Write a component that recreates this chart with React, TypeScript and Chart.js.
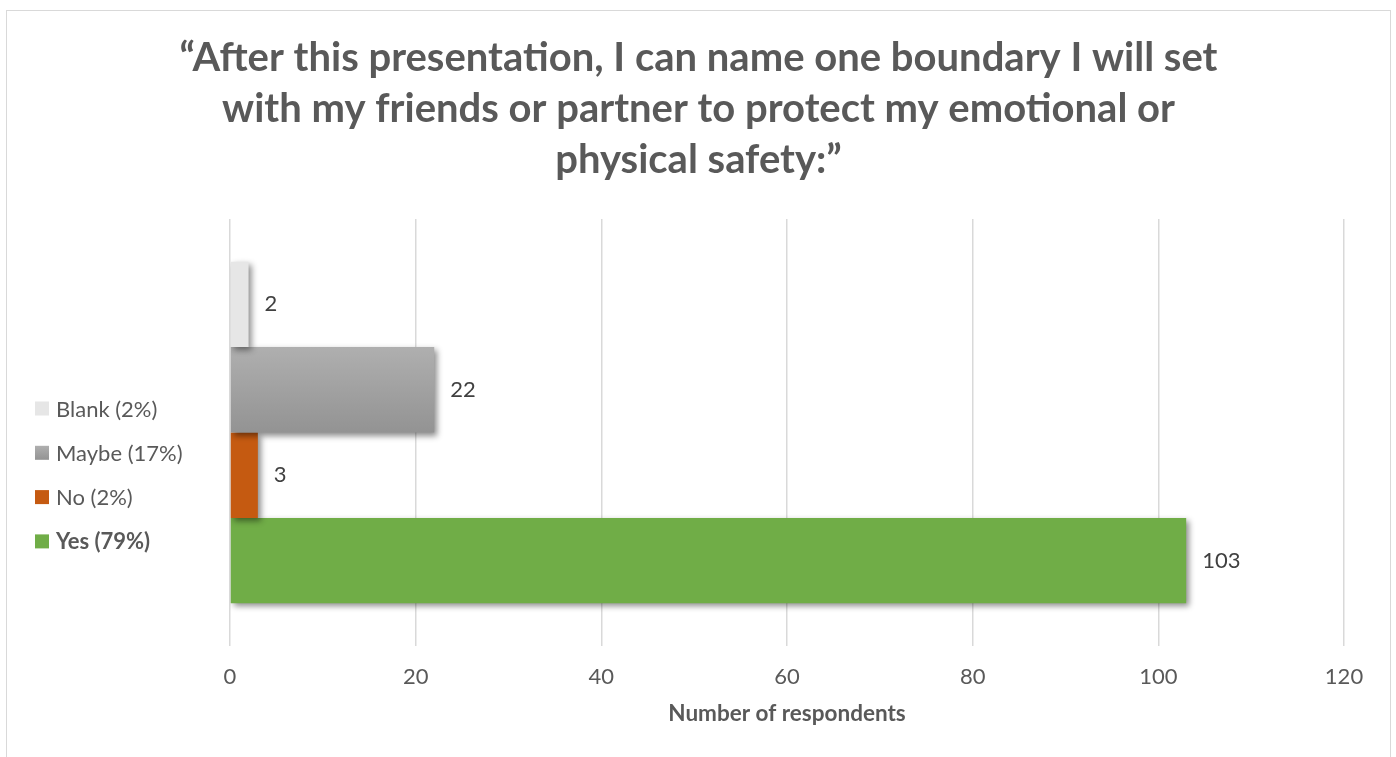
import React, { useEffect, useRef } from 'react';
import { Chart, registerables } from 'chart.js';

Chart.register(...registerables);

const FONT = "Lato, 'Open Sans', sans-serif";

const titleLines = [
  '\u201CAfter this presentation, I can name one boundary I will set',
  'with my friends or partner to protect my emotional or',
  'physical safety:\u201D',
];
const categories = [''];
const seriesNames = ['Blank (2%)', 'Maybe (17%)', 'No (2%)', 'Yes (79%)'];
const blankValues = [2];
const maybeValues = [22];
const noValues = [3];
const yesValues = [103];
const seriesBold = [false, false, false, true];
const xMin = 0;
const xMax = 120;
const xStep = 20;
const axisTitle = 'Number of respondents';

const BLANK_COLOR = '#e6e6e6';
const NO_COLOR = '#c55a11';
const YES_COLOR = '#70ad47';
const MAYBE_TOP = '#afafaf';
const MAYBE_BOTTOM = '#939393';
const CAT_PCT = 0.8;

function maybeGradient(ctx: any) {
  const chart = ctx.chart;
  const y = chart.scales && chart.scales.y;
  if (!chart.chartArea || !y) return '#a5a5a5';
  const n = chart.data.datasets.length;
  const catH = (y.bottom - y.top) / categories.length;
  const center = y.getPixelForValue(ctx.dataIndex ?? 0);
  const total = catH * CAT_PCT;
  const each = total / n;
  const top = center - total / 2 + ctx.datasetIndex * each;
  const g = chart.ctx.createLinearGradient(0, top, 0, top + each);
  g.addColorStop(0, MAYBE_TOP);
  g.addColorStop(1, MAYBE_BOTTOM);
  return g;
}

const decorPlugin = {
  id: 'decor',
  beforeDatasetsDraw(chart: any) {
    const c = chart.ctx;
    c.save();
    c.shadowColor = 'rgba(0,0,0,0.45)';
    c.shadowBlur = 6;
    c.shadowOffsetX = 3;
    c.shadowOffsetY = 3;
  },
  afterDatasetsDraw(chart: any) {
    const c = chart.ctx;
    c.restore();
    c.save();
    c.font = `22px ${FONT}`;
    c.fillStyle = '#404040';
    c.textAlign = 'left';
    c.textBaseline = 'middle';
    chart.data.datasets.forEach((ds: any, i: number) => {
      const meta = chart.getDatasetMeta(i);
      meta.data.forEach((el: any, j: number) => {
        c.fillText(String(ds.data[j]), el.x + 16, el.y);
      });
    });
    c.restore();
  },
  afterDraw(chart: any) {
    const c = chart.ctx;
    const area = chart.chartArea;
    c.save();
    c.textAlign = 'left';
    c.textBaseline = 'middle';
    chart.data.datasets.forEach((ds: any, i: number) => {
      const cy = area.top + 189.5 + i * 44.3;
      const sx = 28;
      const size = 14;
      if (i === 1) {
        const g = c.createLinearGradient(0, cy - size / 2, 0, cy + size / 2);
        g.addColorStop(0, MAYBE_TOP);
        g.addColorStop(1, MAYBE_BOTTOM);
        c.fillStyle = g;
      } else {
        c.fillStyle = ds.legendColor;
      }
      c.fillRect(sx, cy - size / 2, size, size);
      c.fillStyle = '#595959';
      c.font = `${seriesBold[i] ? 'bold ' : ''}22px ${FONT}`;
      c.fillText(ds.label, sx + 21, cy + 1);
    });
    c.restore();
  },
};

export default function App() {
  const canvasRef = useRef<HTMLCanvasElement | null>(null);

  useEffect(() => {
    if (!canvasRef.current) return;
    const chart = new Chart(canvasRef.current, {
      type: 'bar',
      data: {
        labels: categories,
        datasets: [
          { label: seriesNames[0], data: blankValues, backgroundColor: BLANK_COLOR, legendColor: BLANK_COLOR } as any,
          { label: seriesNames[1], data: maybeValues, backgroundColor: maybeGradient, legendColor: '#a5a5a5' } as any,
          { label: seriesNames[2], data: noValues, backgroundColor: NO_COLOR, legendColor: NO_COLOR } as any,
          { label: seriesNames[3], data: yesValues, backgroundColor: YES_COLOR, legendColor: YES_COLOR } as any,
        ],
      },
      options: {
        indexAxis: 'y',
        responsive: true,
        maintainAspectRatio: false,
        animation: false,
        datasets: { bar: { categoryPercentage: CAT_PCT, barPercentage: 1, borderWidth: 0 } },
        layout: { padding: { left: 0, right: 0, top: 0, bottom: 29.5 } },
        plugins: {
          legend: { display: false },
          tooltip: { enabled: false },
          title: {
            display: true,
            text: titleLines,
            color: '#595959',
            font: { family: FONT, size: 40, weight: 'bold', lineHeight: 51 / 40 },
            padding: { top: 22, bottom: 33 },
          },
        },
        scales: {
          x: {
            type: 'linear',
            min: xMin,
            max: xMax,
            ticks: { stepSize: xStep, color: '#595959', font: { family: FONT, size: 22 }, padding: 0 },
            grid: { color: '#d9d9d9', lineWidth: 1.5, drawTicks: true, tickLength: 17.8, tickColor: 'rgba(0,0,0,0)' },
            border: { display: false },
            title: {
              display: true,
              text: axisTitle,
              color: '#595959',
              font: { family: FONT, size: 22.5, weight: 'bold' },
              padding: { top: 10.3, bottom: 0 },
            },
          },
          y: {
            type: 'category',
            display: true,
            grid: { display: false },
            border: { display: false },
            ticks: { display: false },
            afterFit: (s: any) => { s.width = 223; },
          },
          y2: {
            type: 'category',
            position: 'right',
            display: true,
            grid: { display: false },
            border: { display: false },
            ticks: { display: false },
            afterFit: (s: any) => { s.width = 46; },
          },
        },
      } as any,
      plugins: [decorPlugin],
    });
    return () => chart.destroy();
  }, []);

  return (
    <div
      style={{
        position: 'absolute',
        left: 6,
        top: 10,
        width: 1385,
        height: 747,
        boxSizing: 'border-box',
        border: '1px solid #d9d9d9',
        borderBottom: 'none',
        background: '#ffffff',
      }}
    >
      <canvas ref={canvasRef} />
    </div>
  );
}
